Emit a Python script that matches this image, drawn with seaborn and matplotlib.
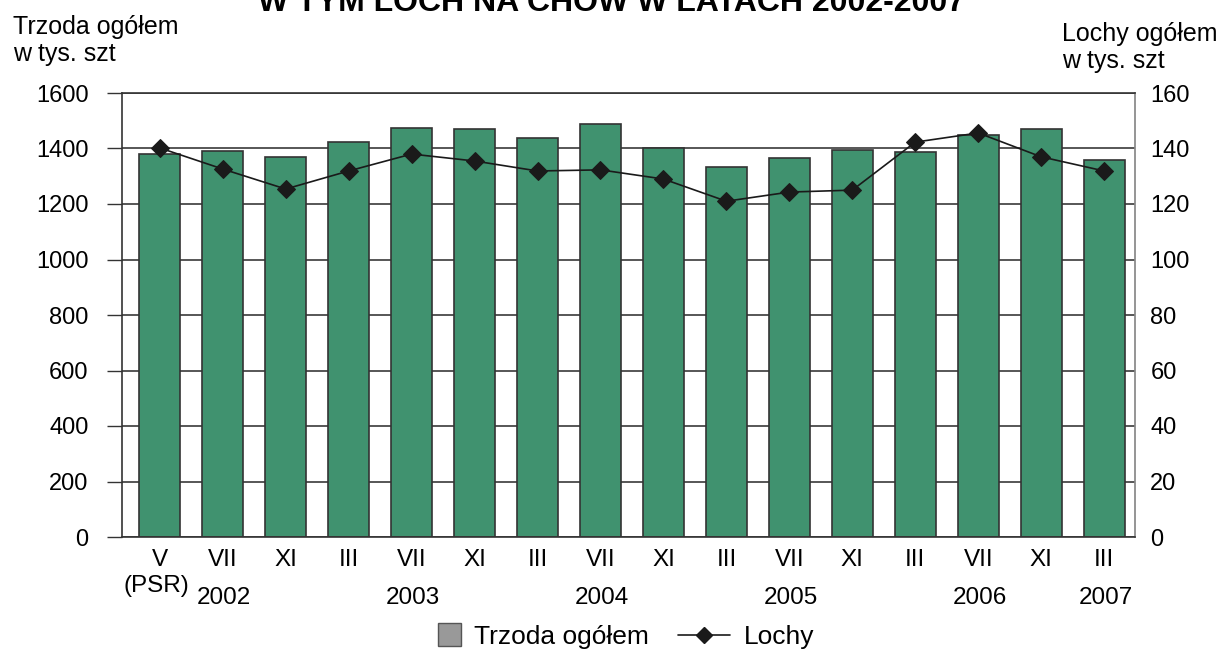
import numpy as np
import pandas as pd
import matplotlib
matplotlib.use("Agg")
import matplotlib.pyplot as plt
import matplotlib.transforms as mtransforms
from matplotlib.patches import Patch, Rectangle
from matplotlib.lines import Line2D
from matplotlib.legend_handler import HandlerPatch
import seaborn as sns

months = ["V", "VII", "XI", "III", "VII", "XI", "III", "VII", "XI", "III",
          "VII", "XI", "III", "VII", "XI", "III"]
trzoda = [1380, 1391, 1369, 1423, 1474, 1470, 1438, 1488, 1402, 1333,
          1366, 1395, 1387, 1449, 1470, 1359]
lochy = [140.2, 132.6, 125.4, 131.9, 138.0, 135.5, 131.9, 132.3, 129.0, 121.0,
         124.3, 125.0, 142.3, 145.6, 137.0, 131.9]
year_labels = ["2002", "2003", "2004", "2005", "2006", "2007"]
year_pos = [1, 4, 7, 10, 13, 15]

sns.set_theme(style="white")
plt.rcParams["font.family"] = ["Liberation Sans", "DejaVu Sans"]
plt.rcParams["text.color"] = "black"
plt.rcParams["xtick.color"] = "black"
plt.rcParams["ytick.color"] = "black"
plt.rcParams["axes.labelcolor"] = "black"

df = pd.DataFrame({"idx": np.arange(len(months)), "trzoda": trzoda, "lochy": lochy})

fig = plt.figure(figsize=(12.22, 6.53), dpi=100)
ax = fig.add_axes([122 / 1222, 1 - 537 / 653, (1135 - 122) / 1222, (537 - 93) / 653])

sns.barplot(data=df, x="idx", y="trzoda", color="#40926f", saturation=1,
            width=0.65, edgecolor="#333333", linewidth=1.2, ax=ax)
ax.set_xlim(-0.6, 15.49)
ax.set_ylim(0, 1600)
ax.set_yticks(np.arange(0, 1601, 200))
ax.set_axisbelow(True)
ax.yaxis.grid(True, color="#3a3a3a", linewidth=1.2)
ax.set_xlabel("")
ax.set_ylabel("")

ax.set_xticks(np.arange(len(months)))
ax.set_xticklabels(months, fontsize=17.5)
ax.tick_params(axis="x", which="major", length=0, pad=9)
ax.set_xticks(np.arange(0.5, len(months) - 1, 1), minor=True)
ax.tick_params(axis="x", which="minor", length=9, width=1, color="#333333", direction="inout")
ax.tick_params(axis="y", length=11, width=1, color="#333333", labelsize=17, pad=13, direction="out")
for s in ["left", "bottom", "top"]:
    ax.spines[s].set_color("#333333")
    ax.spines[s].set_linewidth(1.2)
ax.spines["right"].set_color("#888888")

ax2 = ax.twinx()
sns.lineplot(data=df, x="idx", y="lochy", color="#1a1a1a", linewidth=1.2,
             marker="D", markersize=9, markeredgecolor="#1a1a1a", ax=ax2)
ax2.set_ylim(0, 160)
ax2.set_yticks(np.arange(0, 161, 20))
ax2.tick_params(axis="y", length=0, labelsize=17, pad=11)
ax2.set_xlabel("")
ax2.set_ylabel("")
ax2.set_xlim(-0.6, 15.49)
for s in ax2.spines.values():
    s.set_visible(False)

trans = mtransforms.blended_transform_factory(ax.transData, fig.transFigure)
for lab, p in zip(year_labels, year_pos):
    ax.text(p + 0.02, 1 - 598 / 653, lab, transform=trans, ha="center", va="center", fontsize=17.5)
ax.text(-0.05, 1 - 586 / 653, "(PSR)", transform=trans, ha="center", va="center", fontsize=17.5)

fig.text(13 / 1222, 1 - 15 / 653, "Trzoda ogółem\nw tys. szt", ha="left", va="top",
         fontsize=18, linespacing=1.17, multialignment="left")
fig.text(1062 / 1222, 1 - 22 / 653, "Lochy ogółem\nw tys. szt", ha="left", va="top",
         fontsize=18, linespacing=1.17, multialignment="left")

fig.text(0.5, 1 - 11 / 653, "POGŁOWIE TRZODY CHLEWNEJ OGÓŁEM\nW TYM LOCH NA CHÓW W LATACH 2002-2007",
         ha="center", va="baseline", fontsize=23, fontweight="bold", linespacing=1.2)


def square_patch(legend, orig_handle, xdescent, ydescent, width, height, fontsize):
    side = height * 1.25
    return Rectangle((-xdescent + width - side, -ydescent + (height - side) / 2), side, side)


handles = [Patch(facecolor="#999999", edgecolor="#555555", label="Trzoda ogółem"),
           Line2D([0], [0], color="#1a1a1a", lw=1.2, marker="D", markersize=8, label="Lochy")]
fig.legend(handles=handles, loc="center", bbox_to_anchor=(0.5, 1 - 637 / 653), ncol=2,
           frameon=False, fontsize=19, handlelength=2.0, handletextpad=0.5, columnspacing=1.1,
           handler_map={Patch: HandlerPatch(patch_func=square_patch)})

fig.savefig("out.png", dpi=100)
